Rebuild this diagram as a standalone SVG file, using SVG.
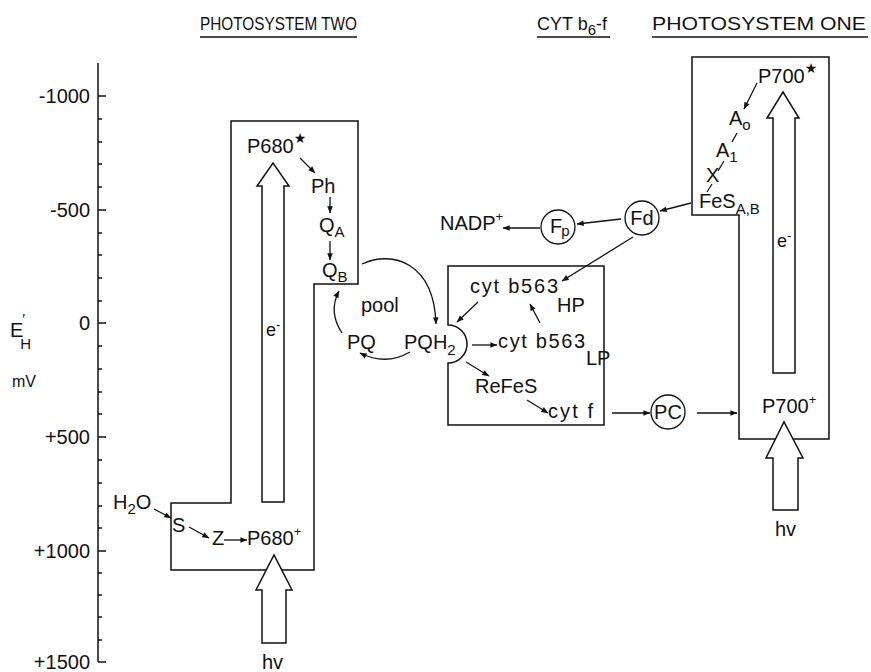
<svg xmlns="http://www.w3.org/2000/svg" width="871" height="672" viewBox="0 0 871 672">
<defs>
<marker id="ah" viewBox="0 0 10 10" refX="9.5" refY="5" markerWidth="8" markerHeight="7" markerUnits="userSpaceOnUse" orient="auto">
<path d="M0,1 L10,5 L0,9 z" fill="#111"/>
</marker>
<style>
text { font-family: "Liberation Sans", Arial, sans-serif; font-size: 20px; fill: #111; }
.hd { font-size: 18px; }
.sub { font-size: 15px; }
.sup { font-size: 13px; }
.star { font-family: "DejaVu Sans", sans-serif; font-size: 14px; }
.box { fill: none; stroke: #111; stroke-width: 1.5; }
.big { fill: #fff; stroke: #111; stroke-width: 1.5; }
.c { fill: none; stroke: #111; stroke-width: 1.3; marker-end: url(#ah); }
.d { fill: none; stroke: #111; stroke-width: 1.3; }
.circ { fill: none; stroke: #111; stroke-width: 1.3; }
.ax line { stroke: #111; stroke-width: 1.5; }
.lbl { text-anchor: end; font-size: 20px; }
</style>
</defs>
<rect width="871" height="672" fill="#fff"/>

<!-- headers -->
<g id="headers">
<text class="hd" x="200" y="30" textLength="157" lengthAdjust="spacingAndGlyphs">PHOTOSYSTEM  TWO</text>
<line x1="200" y1="37" x2="357" y2="37" stroke="#111" stroke-width="1.3"/>
<text class="hd" x="537" y="30">CYT b<tspan class="sub" dy="5">6</tspan><tspan dy="-5">-f</tspan></text>
<line x1="537" y1="37" x2="610" y2="37" stroke="#111" stroke-width="1.3"/>
<text class="hd" x="652" y="30" textLength="214" lengthAdjust="spacingAndGlyphs">PHOTOSYSTEM ONE</text>
<line x1="652" y1="37" x2="868" y2="37" stroke="#111" stroke-width="1.3"/>
</g>

<!-- axis -->
<g id="axis" class="ax">
<line x1="98" y1="63" x2="98" y2="662"/>
<line x1="98" y1="96" x2="106" y2="96"/>
<line x1="98" y1="210" x2="106" y2="210"/>
<line x1="98" y1="323" x2="106" y2="323"/>
<line x1="98" y1="437" x2="106" y2="437"/>
<line x1="98" y1="551" x2="106" y2="551"/>
<line x1="98" y1="662" x2="106" y2="662"/>
<line x1="98" y1="119" x2="102" y2="119"/><line x1="98" y1="142" x2="102" y2="142"/><line x1="98" y1="164" x2="102" y2="164"/><line x1="98" y1="187" x2="102" y2="187"/>
<line x1="98" y1="233" x2="102" y2="233"/><line x1="98" y1="255" x2="102" y2="255"/><line x1="98" y1="278" x2="102" y2="278"/><line x1="98" y1="301" x2="102" y2="301"/>
<line x1="98" y1="346" x2="102" y2="346"/><line x1="98" y1="369" x2="102" y2="369"/><line x1="98" y1="392" x2="102" y2="392"/><line x1="98" y1="414" x2="102" y2="414"/>
<line x1="98" y1="460" x2="102" y2="460"/><line x1="98" y1="483" x2="102" y2="483"/><line x1="98" y1="506" x2="102" y2="506"/><line x1="98" y1="528" x2="102" y2="528"/>
<line x1="98" y1="573" x2="102" y2="573"/><line x1="98" y1="595" x2="102" y2="595"/><line x1="98" y1="617" x2="102" y2="617"/><line x1="98" y1="640" x2="102" y2="640"/>
<text class="lbl" x="90" y="103">-1000</text>
<text class="lbl" x="90" y="217">-500</text>
<text class="lbl" x="90" y="330">0</text>
<text class="lbl" x="90" y="444">+500</text>
<text class="lbl" x="90" y="558">+1000</text>
<text class="lbl" x="90" y="669">+1500</text>
<text x="10" y="337">E<tspan class="sub" dx="-1" dy="-13">′</tspan><tspan class="sub" dx="-5" dy="25">H</tspan></text>
<text x="12" y="387" style="font-size:16px">mV</text>
</g>

<!-- Photosystem II -->
<g id="psii">
<path class="box" d="M231,121 L358,121 L358,284 L314,284 L314,570 L171,570 L171,503 L231,503 Z"/>
<polygon class="big" points="262,502 262,186 257,186 273,163 289,186 284,186 284,502"/>
<text x="266" y="336" style="font-size:18px">e<tspan class="sup" dy="-7">-</tspan></text>
<polygon class="big" points="262,643 262,590 256,590 274,555 292,590 286,590 286,643"/>
<text x="262" y="669">hv</text>
</g>
<g id="p680star"><text x="247" y="153">P680<tspan class="star" dy="-10">★</tspan></text></g>
<g id="ph"><text x="311" y="193">Ph</text></g>
<g id="qa"><text x="319" y="232">Q<tspan class="sub" dy="5">A</tspan></text></g>
<g id="qb"><text x="322" y="277">Q<tspan class="sub" dy="5">B</tspan></text></g>
<g id="h2o"><text x="113" y="509">H<tspan class="sub" dy="5">2</tspan><tspan dy="-5">O</tspan></text></g>
<g id="s"><text x="172" y="532">S</text></g>
<g id="z"><text x="212" y="545">Z</text></g>
<g id="p680plus"><text x="247" y="545">P680<tspan class="sup" dy="-9">+</tspan></text></g>

<!-- PQ pool -->
<g id="pool"><text x="361" y="312">pool</text></g>
<g id="pq"><text x="347" y="349">PQ</text></g>
<g id="pqh2"><text x="404" y="349">PQH<tspan class="sub" dy="6">2</tspan></text></g>

<!-- Cyt b6-f -->
<g id="cytb6f">
<path class="box" d="M448,266 L448,325 A19,19 0 0 1 448,363 L448,425 L604,425 L604,266 Z"/>
</g>
<g id="b563hp"><text x="470" y="293" textLength="88" lengthAdjust="spacing">cyt b563</text><text x="557" y="312">HP</text></g>
<g id="b563lp"><text x="498" y="348" textLength="87" lengthAdjust="spacing">cyt b563</text><text x="586" y="365">LP</text></g>
<g id="refes"><text x="475" y="393">ReFeS</text></g>
<g id="cytf"><text x="548" y="418" textLength="45" lengthAdjust="spacing">cyt f</text></g>

<g id="nadp"><text x="440" y="230">NADP<tspan class="sup" dy="-9">+</tspan></text></g>
<g id="fp"><circle class="circ" cx="558" cy="227" r="17"/><text x="550" y="233">F<tspan class="sub" dx="-1" dy="3">p</tspan></text></g>
<g id="fd"><circle class="circ" cx="642" cy="218" r="17"/><text x="642" y="225" text-anchor="middle">Fd</text></g>
<g id="pc"><circle class="circ" cx="668" cy="412" r="17"/><text x="668" y="419" text-anchor="middle">PC</text></g>

<!-- Photosystem I -->
<g id="psi">
<path class="box" d="M692,57 L829,57 L829,439 L739,439 L739,215 L692,215 Z"/>
<polygon class="big" points="773,373 773,118 767,118 783,92 799,118 795,118 795,373"/>
<text x="777" y="247" style="font-size:18px">e<tspan class="sup" dy="-7">-</tspan></text>
<polygon class="big" points="773,510 773,458 766,458 784,422 803,458 798,458 798,510"/>
<text x="775" y="536">hv</text>
</g>
<g id="p700star"><text x="758" y="83">P700<tspan class="star" dy="-10">★</tspan></text></g>
<g id="a0"><text x="729" y="125">A<tspan class="sub" dy="5">o</tspan></text></g>
<g id="a1"><text x="716" y="157">A<tspan class="sub" dy="5">1</tspan></text></g>
<g id="x"><text x="706" y="182">X</text></g>
<g id="fesab"><text x="699" y="208">FeS<tspan class="sub" dy="6">A,B</tspan></text></g>
<g id="p700plus"><text x="762" y="413">P700<tspan class="sup" dy="-9">+</tspan></text></g>

<!-- connectors -->
<g id="connectors">
<line class="c" x1="300" y1="158" x2="315" y2="173"/>
<line class="c" x1="330" y1="197" x2="330" y2="213"/>
<line class="c" x1="330" y1="241" x2="330" y2="260"/>
<path class="c" d="M362,264 C392,250 434,262 436,324"/>
<path class="c" d="M410,352 Q386,366 360,353"/>
<path class="c" d="M342,333 Q328,312 339,291"/>
<line class="c" x1="154" y1="509" x2="171" y2="518"/>
<line class="c" x1="189" y1="527" x2="209" y2="538"/>
<line class="c" x1="224" y1="540" x2="247" y2="540"/>
<line class="c" x1="478" y1="302" x2="457" y2="322"/>
<line class="c" x1="540" y1="323" x2="530" y2="304"/>
<line class="c" x1="472" y1="345" x2="497" y2="345"/>
<line class="c" x1="466" y1="362" x2="489" y2="376"/>
<line class="c" x1="527" y1="400" x2="548" y2="413"/>
<line class="c" x1="612" y1="413" x2="650" y2="413"/>
<line class="c" x1="697" y1="413" x2="737" y2="413"/>
<line class="c" x1="633" y1="237" x2="562" y2="281"/>
<line class="c" x1="691" y1="203" x2="660" y2="211"/>
<line class="c" x1="621" y1="219" x2="577" y2="224"/>
<line class="c" x1="540" y1="228" x2="503" y2="228"/>
<line class="c" x1="757" y1="83" x2="744" y2="109"/>
<line class="d" x1="737" y1="133" x2="732" y2="142"/>
<line class="d" x1="724" y1="161" x2="718" y2="171"/>
<line class="d" x1="712" y1="184" x2="707" y2="192"/>
</g>
</svg>
